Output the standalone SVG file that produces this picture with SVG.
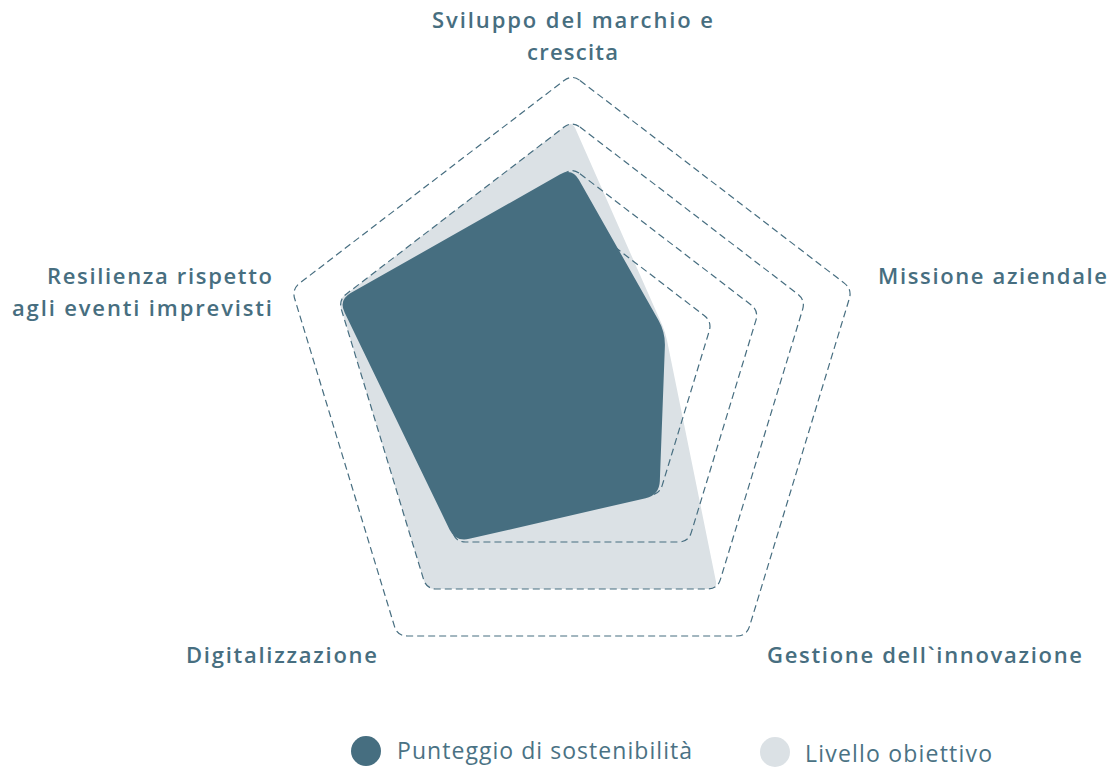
<svg xmlns="http://www.w3.org/2000/svg" width="1115" height="769" viewBox="0 0 1115 769">
<style>
.lbl{font-family:"Open Sans","Liberation Sans",sans-serif;font-weight:600;font-size:22px;fill:#476e80}
.leg{font-family:"Open Sans","Liberation Sans",sans-serif;font-weight:400;font-size:23px;fill:#4a7284}
.ring{fill:none;stroke:#476e80;stroke-width:1.2;stroke-dasharray:7 4}
</style>
<rect width="1115" height="769" fill="#ffffff"/>
<g id="target-area">
<path fill="#dbe1e5" d="M575.23,128.32 L662.17,325.08 Q665.4,332.4 666.99,340.24 L715.91,581.16 Q717.5,589 709.5,589 L434.5,589 Q426.5,589 424.17,581.35 L340.83,307.65 Q338.5,300 344.85,295.13 L565.65,125.87 Q572,121 575.23,128.32 Z"/>
</g>
<g id="grid-rings">
<path class="ring" d="M579.94,80.48 L844.26,283.12 Q852.2,289.2 849.29,298.77 L749.51,626.43 Q746.6,636 736.6,636 L407.4,636 Q397.4,636 394.49,626.43 L294.71,298.77 Q291.8,289.2 299.74,283.12 L564.06,80.48 Q572,74.4 579.94,80.48 Z"/>
<path class="ring" d="M579.94,127.08 L797.56,293.92 Q805.5,300 802.59,309.57 L720.41,579.43 Q717.5,589 707.5,589 L436.5,589 Q426.5,589 423.59,579.43 L341.41,309.57 Q338.5,300 346.44,293.92 L564.06,127.08 Q572,121 579.94,127.08 Z"/>
<path class="ring" d="M579.94,173.68 L750.86,304.72 Q758.8,310.8 755.89,320.37 L691.31,532.43 Q688.4,542 678.4,542 L465.6,542 Q455.6,542 452.69,532.43 L388.11,320.37 Q385.2,310.8 393.14,304.72 L564.06,173.68 Q572,167.6 579.94,173.68 Z"/>
<path class="ring" d="M579.94,220.28 L704.16,315.52 Q712.1,321.6 709.19,331.17 L662.21,485.43 Q659.3,495 649.3,495 L494.7,495 Q484.7,495 481.79,485.43 L434.81,331.17 Q431.9,321.6 439.84,315.52 L564.06,220.28 Q572,214.2 579.94,220.28 Z"/>
</g>
<g id="score-area">
<path fill="#466e80" d="M578.9,179.78 L658.5,320.22 Q665.4,332.4 664.88,346.39 L659.83,481.01 Q659.3,495 645.66,498.15 L469.24,538.85 Q455.6,542 449.5,529.4 L344.6,312.6 Q338.5,300 350.68,293.1 L559.82,174.5 Q572,167.6 578.9,179.78 Z"/>
</g>
<g id="axis-labels">
<text class="lbl" x="432" y="28" textLength="281" lengthAdjust="spacing">Sviluppo del marchio e</text>
<text class="lbl" x="527" y="60" textLength="91" lengthAdjust="spacing">crescita</text>
<text class="lbl" x="878" y="284" textLength="229" lengthAdjust="spacing">Missione aziendale</text>
<text class="lbl" x="47" y="284" textLength="225" lengthAdjust="spacing">Resilienza rispetto</text>
<text class="lbl" x="12" y="316" textLength="260" lengthAdjust="spacing">agli eventi imprevisti</text>
<text class="lbl" x="186" y="663" textLength="191" lengthAdjust="spacing">Digitalizzazione</text>
<text class="lbl" x="767" y="663" textLength="315" lengthAdjust="spacing">Gestione dell`innovazione</text>
</g>
<g id="legend">
<g id="legend-score">
<circle cx="366" cy="751" r="15" fill="#466e80"/>
<text class="leg" x="397" y="759" textLength="295" lengthAdjust="spacing">Punteggio di sostenibilità</text>
</g>
<g id="legend-target">
<circle cx="775" cy="752" r="15" fill="#dbe1e5"/>
<text class="leg" x="805" y="762" textLength="187" lengthAdjust="spacing">Livello obiettivo</text>
</g>
</g>
</svg>
